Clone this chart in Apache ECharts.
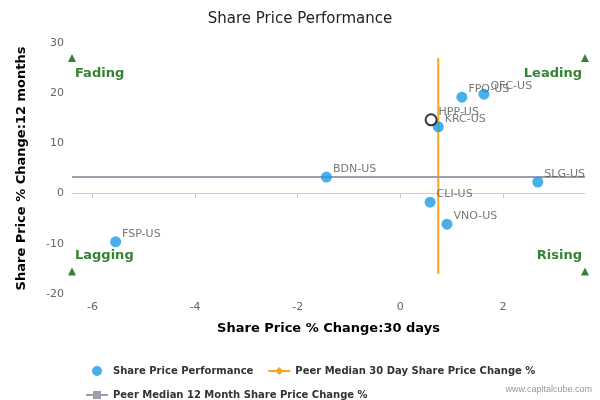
<!DOCTYPE html><html><head><meta charset="utf-8"><script src="https://cdn.jsdelivr.net/npm/echarts@6/dist/echarts.min.js"></script></head><body style="margin:0"><div id="c" style="width:600px;height:400px"></div><script>
const names=['FSP-US','BDN-US','CLI-US','VNO-US','KRC-US','FPO-US','OFC-US','SLG-US'];
const xs=[-5.55,-1.44,0.58,0.91,0.74,1.2,1.63,2.68];
const ys=[-9.6,3.3,-1.7,-6.1,13.3,19.2,19.8,2.3];
const hpp={name:'HPP-US',x:0.6,y:14.7};
const median30=0.74, median12=3.3;
const xTicks=[-6,-4,-2,0,2];
const quadrants=[['Fading',-6.4,27,'top'],['Leading',3.6,27,'top'],['Lagging',-6.4,-15.5,'bottom'],['Rising',3.6,-15.5,'bottom']];
const lab={show:true,position:'right',color:'#555',fontSize:11,formatter:p=>p.data.n,offset:[-4,-8]};
const ch=echarts.init(document.getElementById('c'));
ch.setOption({
title:{text:'Share Price Performance',left:'center',top:7,textStyle:{fontSize:15,fontWeight:'normal',color:'#222',fontFamily:'DejaVu Sans'}},
textStyle:{fontFamily:'DejaVu Sans'},
grid:{left:72,right:15,top:43,bottom:106},
xAxis:{type:'value',min:-6.4,max:3.6,name:'Share Price % Change:30 days',nameLocation:'middle',nameGap:28,nameTextStyle:{fontWeight:'bold',fontSize:13,color:'#000'},
 axisLine:{lineStyle:{color:'#c0d0e0'}},axisTick:{show:true,customValues:xTicks,lineStyle:{color:'#c0d0e0'}},axisLabel:{customValues:xTicks,color:'#666',fontSize:11},splitLine:{show:false}},
yAxis:{type:'value',min:-20,max:30,interval:10,name:'Share Price % Change:12 months',nameLocation:'middle',nameGap:44,nameTextStyle:{fontWeight:'bold',fontSize:13,color:'#000'},
 axisLine:{show:false},axisTick:{show:false},axisLabel:{color:'#666',fontSize:11},splitLine:{show:false}},
legend:{orient:'horizontal',top:361,left:80,width:470,itemGap:14,itemWidth:22,itemHeight:10,textStyle:{fontSize:10,fontWeight:'bold',color:'#333'},
 data:[{name:'Share Price Performance',icon:'circle'},'Peer Median 30 Day Share Price Change %','Peer Median 12 Month Share Price Change %']},
graphic:[{type:'text',right:8,bottom:6,style:{text:'www.capitalcube.com',fill:'#999',fontSize:9}}],
series:[
{name:'Peer Median 30 Day Share Price Change %',type:'line',symbol:'diamond',showSymbol:false,color:'#f5a623',lineStyle:{width:2},data:[[median30,27],[median30,-16]],z:1},
{name:'Peer Median 12 Month Share Price Change %',type:'line',symbol:'rect',showSymbol:false,color:'#9aa0ab',lineStyle:{width:2},data:[[-6.4,median12],[3.6,median12]],z:1},
{name:'Share Price Performance',type:'scatter',symbolSize:11,color:'#1a9be6',label:lab,data:names.map((n,i)=>({value:[xs[i],ys[i]],n})),z:3},
{name:'hpp',type:'scatter',symbolSize:11,itemStyle:{color:'#fff',borderColor:'#000',borderWidth:2},label:lab,data:[{value:[hpp.x,hpp.y],n:hpp.name}],z:4},
{name:'quad',type:'scatter',symbol:'triangle',symbolSize:8,color:'#006400',silent:true,
 data:quadrants.map(q=>({value:[q[1],q[2]],n:q[0],label:{show:true,formatter:q[0],color:'#006400',fontWeight:'bold',fontSize:13,position:q[3]==='top'?'bottom':'top',align:q[1]<0?'left':'right',offset:[q[1]<0?3:-3,0]}}))}
]});
</script></body></html>
